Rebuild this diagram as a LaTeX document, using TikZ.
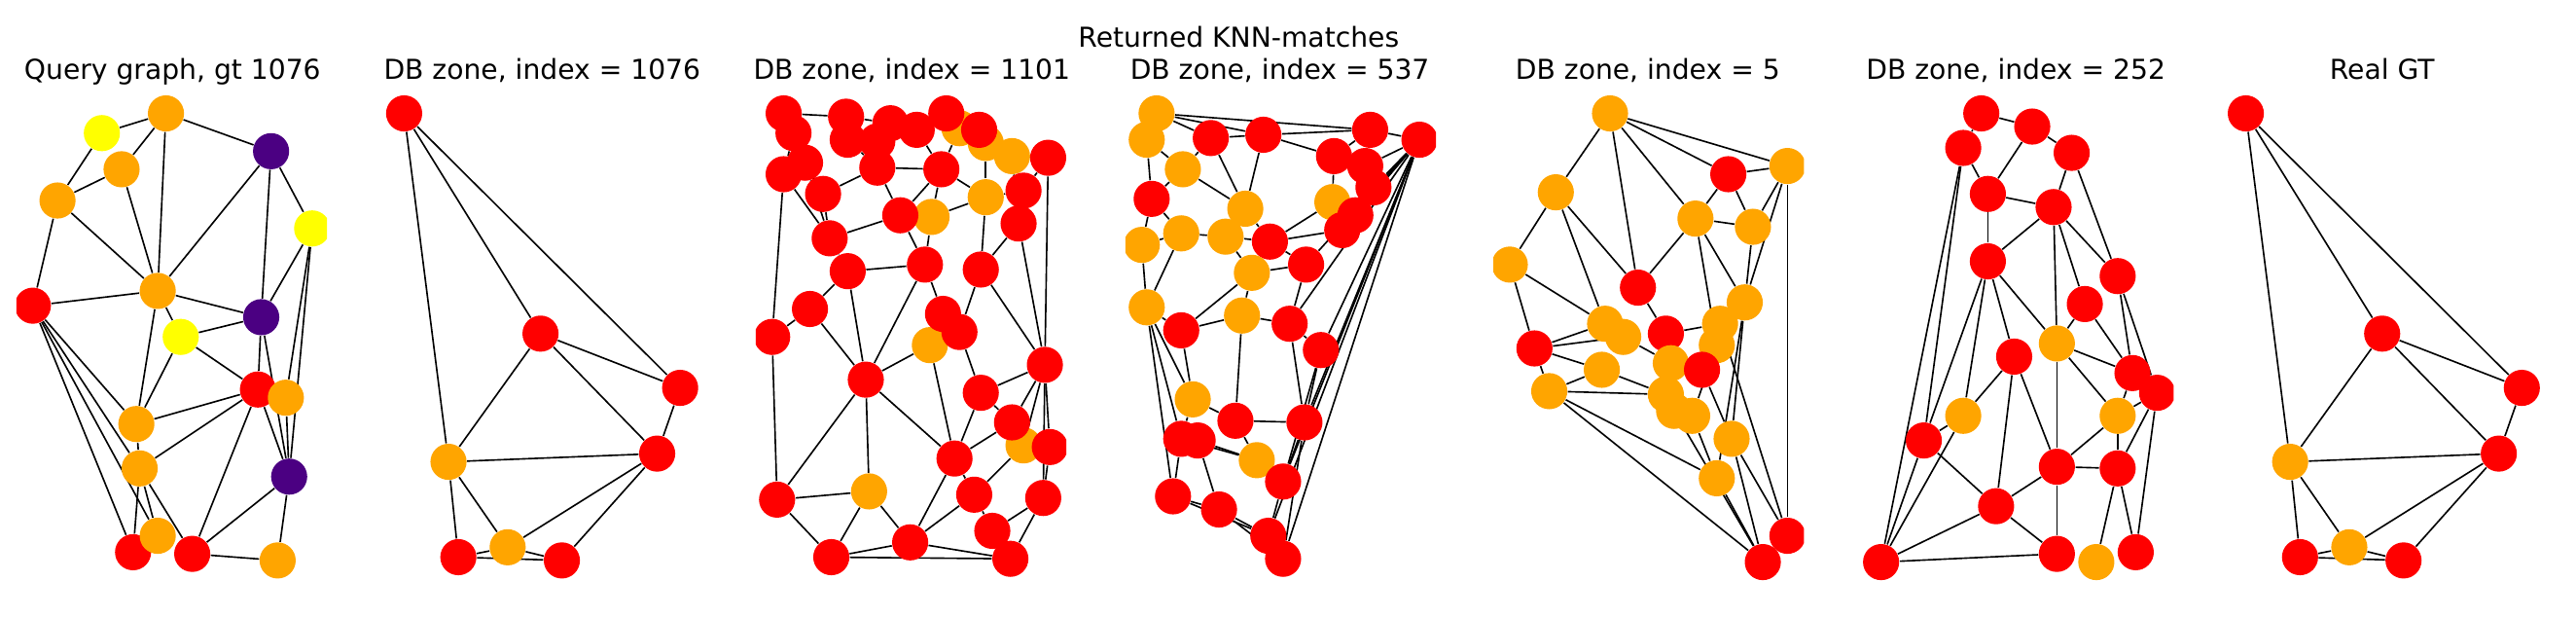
\documentclass[tikz,border=0pt]{standalone}
\usepackage{fontspec}
\setmainfont{DejaVu Sans}
\usetikzlibrary{backgrounds}
\definecolor{R}{HTML}{FF0000}
\definecolor{O}{HTML}{FFA500}
\definecolor{Y}{HTML}{FFFF00}
\definecolor{P}{HTML}{4B0082}
\begin{document}
\begin{tikzpicture}[x=0.02cm,y=-0.02cm,
	v/.style={circle,draw=none,minimum size=0.44cm,inner sep=0pt},
	e/.style={black,line width=0.55pt},
	ttl/.style={font=\fontsize{9.5}{11}\selectfont,anchor=base}]
	\useasboundingbox (0,0) rectangle (1568,375);
	%titles
		\node[ttl] (top) at (754,29) {Returned KNN-matches};
		\node[ttl] (t1) at (105,48) {Query graph, gt 1076};
		\node[ttl] (t2) at (330,48) {DB zone, index = 1076};
		\node[ttl] (t3) at (555,48) {DB zone, index = 1101};
		\node[ttl] (t4) at (779,48) {DB zone, index = 537};
		\node[ttl] (t5) at (1003,48) {DB zone, index = 5};
		\node[ttl] (t6) at (1227,48) {DB zone, index = 252};
		\node[ttl] (t7) at (1450,48) {Real GT};
	%query graph
	\begin{scope}
		\clip (10,55) rectangle (199,355);
		\foreach \n/\x/\y/\c in {y1/62/81/Y,o1/101/69/O,p1/165/92/P,o2/74/103/O,o3/35/122/O,
			y2/190/139/Y,r1/20/186/R,o4/96/177/O,p2/159/193/P,y3/110/205/Y,r2/157/237/R,
			o5/174/242/O,o6/83/258/O,o7/85/285/O,p3/176/290/P,r3/81/336/R,o8/96/326/O,
			r4/117/337/R,o9/169/341/O}
			\node[v,fill=\c] (a\n) at (\x,\y) {};
		\begin{pgfonlayer}{background}
		\foreach \i/\j in {y1/o1,y1/o3,o1/o2,o1/p1,o1/o4,o2/o3,o2/o4,o3/o4,o3/r1,p1/o4,p1/p2,
			p1/y2,y2/p2,y2/o5,y2/p3,r1/o4,r1/o6,r1/o7,r1/r3,r1/o8,o4/p2,o4/y3,o4/o6,y3/p2,
			y3/r2,y3/o6,p2/r2,p2/p3,r2/o6,r2/o7,r2/r4,r2/p3,o5/p3,o6/o7,o7/r3,o7/o8,o7/r4,
			r4/p3,r4/o9,p3/o9}
			\draw[e] (a\i) -- (a\j);
		\end{pgfonlayer}
	\end{scope}
	%DB 1076 and real GT
	\foreach \s/\p in {0/b,1121/g}{
		\begin{scope}[xshift=\s*0.02cm]
		\foreach \n/\x/\y/\c in {1/246/69/R,2/329/203/R,3/414/236/R,4/273/281/O,5/400/276/R,
			6/279/339/R,7/309/333/O,8/342/341/R}
			\node[v,fill=\c] (\p\n) at (\x,\y) {};
		\begin{pgfonlayer}{background}
		\foreach \i/\j in {1/4,1/2,1/3,2/3,2/4,2/5,3/5,4/5,4/6,4/7,7/5,8/5,6/7,7/8,6/8}
			\draw[e] (\p\i) -- (\p\j);
		\end{pgfonlayer}
		\end{scope}
	}
	%DB 1101
	\begin{scope}
		\clip (460,55) rectangle (649,355);
		\foreach \n/\x/\y/\c in {10/584/78/O,11/600/87/O,12/616/95/O,20/600/120/O,22/567/132/O,
			32/566/210/O,37/623/271/O,41/529/299/O,
			1/477/69/R,2/483/81/R,3/515/71/R,4/516/85/R,5/542/75/R,6/534/86/R,7/558/79/R,
			8/576/69/R,9/596/79/R,13/638/96/R,14/477/106/R,15/490/99/R,16/534/102/R,
			17/573/103/R,18/501/118/R,19/623/116/R,21/548/131/R,23/620/136/R,24/505/145/R,
			25/516/165/R,26/563/161/R,27/597/164/R,28/493/188/R,29/470/205/R,30/574/191/R,
			31/584/202/R,33/527/231/R,34/636/222/R,35/597/239/R,36/616/257/R,38/639/272/R,
			39/581/279/R,40/473/304/R,42/593/301/R,43/635/303/R,44/604/323/R,45/554/330/R,
			46/506/339/R,47/615/340/R}
			\node[v,fill=\c] (c\n) at (\x,\y) {};
		\begin{pgfonlayer}{background}
		\foreach \i/\j in {1/3,3/5,5/8,8/9,1/2,2/14,2/15,1/15,3/4,4/6,6/7,7/8,14/15,15/18,
			14/29,14/24,15/24,18/24,18/16,16/21,4/16,6/16,16/17,7/17,17/21,17/22,17/20,
			20/11,20/19,19/13,13/34,13/12,12/23,20/27,23/27,23/34,21/24,21/26,22/26,22/20,
			24/25,25/26,25/28,25/33,28/29,28/33,29/40,26/30,26/33,27/31,27/34,30/31,31/32,
			32/33,31/35,34/35,35/36,34/36,34/37,34/38,34/43,33/39,33/41,33/40,39/32,39/35,
			39/36,39/42,39/45,40/41,40/46,41/46,41/45,45/46,45/47,46/47,42/44,44/47,42/45,
			43/44,37/42,38/43,36/37,43/47,9/10,11/12,10/17}
			\draw[e] (c\i) -- (c\j);
		\end{pgfonlayer}
	\end{scope}
	%DB 537
	\begin{scope}
		\clip (685,55) rectangle (874,355);
		\foreach \n/\x/\y/\c in {1/704/69/O,2/698/85/O,3/737/84/R,4/769/82/R,5/834/79/R,
			6/864/85/R,7/812/95/R,8/831/101/R,9/720/103/O,10/701/121/R,11/836/114/R,
			12/758/127/O,13/811/123/O,14/825/131/R,15/817/140/R,16/695/149/O,17/719/142/O,
			18/746/144/O,19/773/147/R,20/762/166/O,21/795/161/R,22/698/187/O,23/719/201/R,
			24/756/192/O,25/785/197/R,26/804/213/R,27/726/243/O,28/752/256/R,29/794/257/R,
			30/719/267/R,31/729/268/R,32/765/280/O,33/781/293/R,34/714/302/R,35/742/310/R,
			36/772/326/R,37/781/340/R}
			\node[v,fill=\c] (d\n) at (\x,\y) {};
		\begin{pgfonlayer}{background}
		\foreach \i/\j in {1/4,1/5,4/5,5/6,1/3,3/4,2/9,2/10,9/3,9/10,9/12,3/12,4/12,4/7,
			7/13,7/5,8/6,11/6,14/6,15/6,25/6,26/6,29/6,33/6,37/6,36/6,6/21,12/18,12/19,
			13/19,19/18,19/15,10/16,10/17,16/17,17/18,18/20,19/21,20/21,16/22,17/22,22/23,
			20/23,23/24,24/25,20/24,21/25,25/26,22/27,23/27,24/28,27/28,28/29,25/29,26/29,
			22/30,22/34,27/30,30/32,31/32,28/32,29/33,32/33,30/34,31/35,34/35,35/36,35/37,
			33/36,34/36,29/37,26/33}
			\draw[e] (d\i) -- (d\j);
		\end{pgfonlayer}
	\end{scope}
	%DB 5
	\begin{scope}
		\clip (909,55) rectangle (1098,355);
		\foreach \n/\x/\y/\c in {1/980/69/O,2/1088/101/O,3/1052/106/R,4/947/117/O,
			5/1032/133/O,6/1067/138/O,7/919/161/O,8/997/175/R,9/1062/184/O,10/977/197/O,
			11/988/205/O,12/1014/203/R,13/1047/197/O,14/1045/210/O,15/934/212/R,
			16/975/225/O,17/1017/221/O,18/1036/225/R,19/943/238/O,20/1014/240/O,
			21/1019/250/O,22/1030/253/O,23/1054/267/O,24/1045/291/O,25/1088/326/R,
			26/1073/342/R}
			\node[v,fill=\c] (e\n) at (\x,\y) {};
		\begin{pgfonlayer}{background}
		\foreach \i/\j in {1/2,1/3,1/4,1/5,1/8,3/2,2/6,2/9,2/25,3/5,3/6,5/6,5/8,5/14,5/9,
			6/9,4/7,4/8,4/10,7/15,7/10,8/12,9/24,9/23,10/15,15/16,15/11,15/19,16/19,19/20,
			19/26,19/24,16/20,12/13,13/18,14/22,18/23,23/25,23/26,24/26,22/24,21/26,13/25,
			11/17}
			\draw[e] (e\i) -- (e\j);
		\end{pgfonlayer}
	\end{scope}
	%DB 252
	\begin{scope}
		\clip (1134,55) rectangle (1323,355);
		\foreach \n/\x/\y/\c in {1/1206/69/R,2/1237/77/R,3/1195/90/R,4/1261/93/R,
			5/1210/118/R,6/1250/126/R,7/1210/159/R,8/1289/168/R,9/1269/185/R,10/1226/217/R,
			11/1252/209/O,12/1298/227/R,13/1313/239/R,14/1195/253/O,15/1289/253/O,
			16/1171/268/R,17/1252/284/R,18/1289/285/R,19/1215/308/R,20/1145/342/R,
			21/1252/337/R,22/1276/342/O,23/1300/336/R}
			\node[v,fill=\c] (f\n) at (\x,\y) {};
		\begin{pgfonlayer}{background}
		\foreach \i/\j in {1/2,1/3,2/4,2/5,3/5,3/16,3/20,4/6,4/8,5/6,5/7,6/7,6/9,6/11,6/8,
			8/12,8/13,9/12,9/11,7/10,7/11,7/14,7/16,10/14,10/19,10/17,11/17,11/12,11/15,
			12/15,13/18,13/15,15/17,15/18,16/19,16/20,14/16,17/19,17/18,17/21,18/22,18/23,
			13/23,19/20,20/21,19/21,20/14}
			\draw[e] (f\i) -- (f\j);
		\end{pgfonlayer}
	\end{scope}
\end{tikzpicture}
\end{document}
